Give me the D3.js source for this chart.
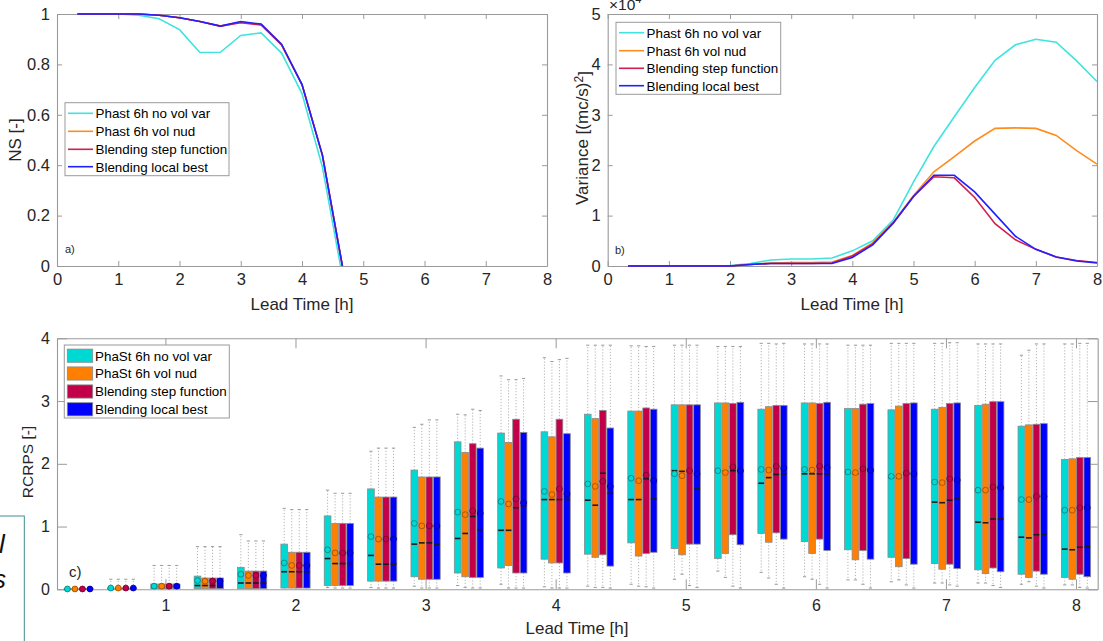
<!DOCTYPE html>
<html><head><meta charset="utf-8">
<script src="https://cdn.jsdelivr.net/npm/d3@7"></script>
<style>body{margin:0;background:#fff;} svg{display:block;}</style>
</head><body><svg width="1103" height="641"></svg>
<script>
// ---------------- DATA ----------------
const leadTimes = [0.333,0.667,1,1.333,1.667,2,2.333,2.667,3,3.333,3.667,4,4.333,4.667,5,5.333,5.667,6,6.333,6.667,7,7.333,7.667,8];
const lineSeriesNames = ["Phast 6h no vol var","Phast 6h vol nud","Blending step function","Blending local best"];
const boxSeriesNames = ["PhaSt 6h no vol var","PhaSt 6h vol nud","Blending step function","Blending local best"];

// a) NS [-]
const nsNoVolVar = [1,1,1,0.995,0.981,0.938,0.847,0.848,0.915,0.925,0.845,0.684,0.393,-0.05,-0.7,-1.5,-2.4,-3.3,-4.0,-4.5,-4.8,-5.0,-5.0,-4.9];
const nsVolNud   = [1,1,1,1,0.995,0.985,0.97,0.952,0.968,0.958,0.877,0.72,0.44,-0.01,-0.5,-1.1,-1.8,-2.4,-2.9,-3.2,-3.3,-3.3,-3.2,-3.0];
const nsStep     = [1,1,1,1,0.995,0.985,0.97,0.952,0.965,0.957,0.877,0.72,0.44,-0.01,-0.5,-1.1,-1.8,-2.4,-2.9,-3.2,-3.3,-3.3,-3.2,-3.0];
const nsLocal    = [1,1,1,1,0.995,0.985,0.97,0.952,0.97,0.96,0.88,0.72,0.44,-0.01,-0.5,-1.1,-1.8,-2.4,-2.9,-3.2,-3.3,-3.3,-3.2,-3.0];

// b) Variance [(mc/s)^2] x 10^4
const varNoVolVar = [0,0,0,0,0,0.01,0.05,0.12,0.14,0.14,0.16,0.30,0.50,0.91,1.67,2.37,2.96,3.54,4.08,4.39,4.50,4.44,4.07,3.66];
const varVolNud   = [0,0,0,0,0,0,0.03,0.06,0.07,0.07,0.08,0.21,0.46,0.87,1.40,1.87,2.17,2.48,2.73,2.74,2.73,2.59,2.29,2.02];
const varStep     = [0,0,0,0,0,0,0.03,0.05,0.05,0.05,0.06,0.20,0.44,0.85,1.38,1.77,1.75,1.36,0.84,0.52,0.33,0.18,0.11,0.07];
const varLocal    = [0,0,0,0,0,0,0.03,0.05,0.05,0.05,0.05,0.17,0.42,0.85,1.38,1.80,1.80,1.47,1.03,0.59,0.33,0.18,0.10,0.06];
const varExponent = 4;

// c) RCRPS [-] box statistics, rows = series, columns = lead times
const boxQ3 = [
 [0.01,0.02,0.085,0.21,0.35,0.72,1.17,1.60,1.90,2.35,2.49,2.51,2.79,2.84,2.94,2.97,2.87,2.97,2.88,2.86,2.87,2.93,2.60,2.07],
 [0.01,0.02,0.085,0.18,0.29,0.59,1.05,1.47,1.79,2.18,2.34,2.43,2.72,2.84,2.94,2.97,2.91,2.97,2.88,2.92,2.90,2.95,2.62,2.08],
 [0.01,0.02,0.085,0.18,0.29,0.59,1.05,1.47,1.79,2.32,2.71,2.71,2.85,2.89,2.94,2.96,2.93,2.96,2.95,2.96,2.96,2.99,2.63,2.10],
 [0.01,0.02,0.085,0.18,0.29,0.59,1.05,1.47,1.79,2.25,2.50,2.48,2.57,2.87,2.94,2.98,2.93,2.98,2.96,2.97,2.97,2.99,2.64,2.10]];
const boxMedian = [
 [0.003,0.01,0.03,0.06,0.10,0.28,0.49,0.54,0.72,0.81,0.94,1.43,1.42,1.43,1.89,1.89,1.69,1.84,1.85,1.78,1.39,1.07,0.83,0.64],
 [0.003,0.01,0.03,0.06,0.10,0.28,0.41,0.40,0.74,0.89,0.94,1.43,1.34,1.43,1.88,1.88,1.78,1.84,1.84,1.78,1.38,1.06,0.82,0.63],
 [0.003,0.01,0.03,0.06,0.10,0.28,0.41,0.40,0.74,1.16,1.30,1.43,1.85,1.76,1.88,1.89,1.83,1.84,1.90,1.83,1.42,1.12,0.87,0.67],
 [0.003,0.01,0.03,0.06,0.10,0.28,0.41,0.40,0.72,0.95,1.33,1.43,1.53,1.44,1.60,1.89,1.84,1.84,1.88,1.82,1.44,1.12,0.88,0.68]];
const boxQ1 = [
 [0,0.005,0.01,0.01,0.01,0.02,0.06,0.13,0.20,0.26,0.34,0.48,0.56,0.74,0.65,0.49,0.89,0.76,0.63,0.51,0.41,0.31,0.24,0.19],
 [0,0.005,0.01,0.01,0.01,0.02,0.06,0.13,0.16,0.20,0.38,0.42,0.51,0.53,0.55,0.57,0.75,0.57,0.47,0.36,0.32,0.25,0.19,0.16],
 [0,0.005,0.01,0.01,0.01,0.02,0.06,0.13,0.16,0.19,0.26,0.42,0.55,0.57,0.72,0.87,0.90,0.80,0.62,0.49,0.40,0.34,0.29,0.24],
 [0,0.005,0.01,0.01,0.01,0.02,0.06,0.13,0.16,0.19,0.26,0.26,0.37,0.59,0.72,0.71,0.80,0.62,0.48,0.40,0.33,0.28,0.24,0.20]];
const boxMean = [
 [0.005,0.02,0.05,0.14,0.24,0.42,0.63,0.84,1.05,1.23,1.40,1.56,1.68,1.77,1.84,1.89,1.91,1.91,1.87,1.80,1.71,1.58,1.43,1.26],
 [0.005,0.02,0.05,0.13,0.22,0.38,0.58,0.80,1.01,1.19,1.36,1.51,1.64,1.73,1.81,1.86,1.90,1.90,1.86,1.80,1.70,1.58,1.43,1.26],
 [0.005,0.02,0.05,0.13,0.22,0.38,0.58,0.80,1.01,1.25,1.44,1.60,1.72,1.82,1.89,1.95,1.96,1.96,1.92,1.85,1.76,1.63,1.48,1.30],
 [0.005,0.02,0.05,0.13,0.22,0.38,0.58,0.80,1.01,1.21,1.38,1.52,1.64,1.73,1.84,1.89,1.93,1.94,1.90,1.84,1.74,1.62,1.48,1.30]];
const whiskerHigh = [
 [0.01,0.16,0.38,0.68,0.87,1.29,1.58,2.20,2.58,2.79,3.40,3.69,3.89,3.88,3.89,3.87,3.92,3.91,3.89,3.92,3.92,3.91,3.73,3.91],
 [0.01,0.16,0.38,0.68,0.77,1.27,1.53,2.25,2.63,2.78,3.34,3.63,3.89,3.88,3.89,3.87,3.92,3.91,3.89,3.92,3.92,3.91,3.81,3.91],
 [0.01,0.16,0.38,0.68,0.77,1.27,1.53,2.25,2.70,2.87,3.34,3.66,3.89,3.87,3.89,3.87,3.91,3.91,3.89,3.92,3.93,3.91,3.91,3.92],
 [0.01,0.16,0.38,0.68,0.77,1.27,1.53,2.25,2.70,2.85,3.36,3.68,3.89,3.87,3.89,3.87,3.92,3.91,3.89,3.92,3.93,3.91,3.91,3.92]];
const whiskerLow = [
 [0,0,0,0,0,0.01,0.03,0.03,0.05,0.06,0.08,0.04,0.05,0.08,0.16,0.29,0.27,0.20,0.15,0.12,0.10,0.10,0.08,0.07],
 [0,0,0,0,0,0.01,0.02,0.02,0.02,0.03,0.02,0.02,0.03,0.05,0.24,0.19,0.18,0.16,0.15,0.15,0.10,0.10,0.12,0.07],
 [0,0,0,0,0,0.01,0.02,0.02,0.02,0.02,0.02,0.02,0.03,0.04,0.06,0.05,0.08,0.08,0.08,0.07,0.07,0.06,0.05,0.03],
 [0,0,0,0,0,0.01,0.02,0.02,0.02,0.02,0.02,0.02,0.02,0.02,0.03,0.02,0.02,0.02,0.02,0.02,0.05,0.03,0.02,0.02]];
const xTickHours = [0,1,2,3,4,5,6,7,8];
const nsTicks = [0,0.2,0.4,0.6,0.8,1];
const varTicks = [0,1,2,3,4,5];
const rcrpsTicks = [0,1,2,3,4];
const rcrpsHourTicks = [1,2,3,4,5,6,7,8];

// ---------------- STYLE ----------------
const FONT = "'Liberation Sans', Arial, Helvetica, sans-serif";
const frameColor = "#9a9a9a";
const textColor = "#262626";
const lineColors = ["#3fe3df","#ff8c1f","#d11f50","#2121ff"];
const boxColors = ["#00d8d4","#ff8000","#c2004a","#0000ff"];

const svg = d3.select("svg").style("font-family", FONT);

function drawAxes(xs, ys, o) {
  const [x0, x1] = xs.range(); const [y0, y1] = ys.range();
  const g = svg.append("g");
  g.append("g").attr("transform", `translate(0,${y0})`)
    .call(d3.axisBottom(xs).tickValues(o.xTicks).tickFormat(o.xFmt).tickSizeInner(-o.tick).tickSizeOuter(0).tickPadding(o.xPad));
  g.append("g").attr("transform", `translate(0,${y1})`)
    .call(d3.axisTop(xs).tickValues(o.xTicks).tickFormat("").tickSizeInner(-o.tick).tickSizeOuter(0));
  g.append("g").attr("transform", `translate(${x0},0)`)
    .call(d3.axisLeft(ys).tickValues(o.yTicks).tickFormat(o.yFmt).tickSizeInner(-o.tick).tickSizeOuter(0).tickPadding(o.yPad));
  g.append("g").attr("transform", `translate(${x1},0)`)
    .call(d3.axisRight(ys).tickValues(o.yTicks).tickFormat("").tickSizeInner(-o.tick).tickSizeOuter(0));
  g.selectAll(".domain").attr("stroke", frameColor).attr("stroke-width", 1.1);
  g.selectAll(".tick line").attr("stroke", frameColor).attr("stroke-width", 1);
  g.selectAll(".tick text").attr("fill", textColor).style("font-size", o.font || "16.5px").style("font-family", FONT);
  return g;
}

function lineLegend(x, y, w, h, rows, names, colors) {
  const g = svg.append("g");
  g.append("rect").attr("x", x).attr("y", y).attr("width", w).attr("height", h)
    .attr("fill", "#fff").attr("stroke", frameColor).attr("stroke-width", 1);
  names.forEach((n, i) => {
    g.append("line").attr("x1", x + 3).attr("x2", x + 28).attr("y1", rows[i]).attr("y2", rows[i])
      .attr("stroke", colors[i]).attr("stroke-width", 1.6);
    g.append("text").attr("x", x + 30.5).attr("y", rows[i]).attr("dy", "0.36em")
      .attr("fill", "#000").style("font-size", "13.4px").text(n);
  });
}

const fmt = d3.format("~g");

// ---------- Panel a ----------
const xa = d3.scaleLinear().domain([0, 8]).range([57, 547]);
const ya = d3.scaleLinear().domain([0, 1]).range([266, 14]);
drawAxes(xa, ya, {xTicks: xTickHours, yTicks: nsTicks, xFmt: fmt, yFmt: fmt, tick: 5, xPad: 7, yPad: 7});
svg.append("clipPath").attr("id", "clipA").append("rect")
  .attr("x", 57).attr("y", 11).attr("width", 490).attr("height", 255);
const nsSeries = [nsNoVolVar, nsVolNud, nsStep, nsLocal];
const gA = svg.append("g").attr("clip-path", "url(#clipA)");
nsSeries.forEach((s, k) => {
  gA.append("path").datum(s.map((v, i) => [leadTimes[i], v]))
    .attr("fill", "none").attr("stroke", lineColors[k]).attr("stroke-width", 1.6)
    .attr("d", d3.line().x(d => xa(d[0])).y(d => ya(d[1])));
});
lineLegend(65, 102.7, 164, 73, [113.3, 131.3, 149.3, 166.7], lineSeriesNames, lineColors);
svg.append("text").attr("x", 65).attr("y", 253).attr("fill", textColor).style("font-size", "11px").text("a)");
svg.append("text").attr("x", 302).attr("y", 310).attr("text-anchor", "middle").attr("fill", textColor)
  .style("font-size", "17px").text("Lead Time [h]");
svg.append("text").attr("transform", "translate(15,140) rotate(-90)").attr("text-anchor", "middle").attr("dy", "0.35em")
  .attr("fill", textColor).style("font-size", "17px").text("NS [-]");

// ---------- Panel b ----------
const xb = d3.scaleLinear().domain([0, 8]).range([607.7, 1097]);
const yb = d3.scaleLinear().domain([0, 5]).range([266, 14]);
drawAxes(xb, yb, {xTicks: xTickHours, yTicks: varTicks, xFmt: fmt, yFmt: fmt, tick: 5, xPad: 7, yPad: 7});
svg.append("clipPath").attr("id", "clipB").append("rect")
  .attr("x", 607.7).attr("y", 14).attr("width", 489.3).attr("height", 254);
const varSeries = [varNoVolVar, varVolNud, varStep, varLocal];
const gB = svg.append("g").attr("clip-path", "url(#clipB)");
varSeries.forEach((s, k) => {
  gB.append("path").datum(s.map((v, i) => [leadTimes[i], v]))
    .attr("fill", "none").attr("stroke", lineColors[k]).attr("stroke-width", 1.6)
    .attr("d", d3.line().x(d => xb(d[0])).y(d => yb(d[1])));
});
lineLegend(616, 22.3, 164.7, 72, [32.7, 50.7, 68.3, 85.7], lineSeriesNames, lineColors);
svg.append("text").attr("x", 615).attr("y", 254).attr("fill", textColor).style("font-size", "11px").text("b)");
const expo = svg.append("text").attr("x", 609).attr("y", 10).attr("fill", textColor).style("font-size", "15.5px");
expo.append("tspan").text("×10");
expo.append("tspan").attr("dy", -7).style("font-size", "11px").text(varExponent);
svg.append("text").attr("x", 852).attr("y", 310).attr("text-anchor", "middle").attr("fill", textColor)
  .style("font-size", "17px").text("Lead Time [h]");
const vl = svg.append("text").attr("transform", "translate(582,138) rotate(-90)").attr("text-anchor", "middle").attr("dy", "0.35em")
  .attr("fill", textColor).style("font-size", "17px");
vl.append("tspan").text("Variance [(mc/s)");
vl.append("tspan").attr("dy", "-0.45em").style("font-size", "12px").text("2");
vl.append("tspan").attr("dy", "0.45em").text("]");

// ---------- Panel c ----------
const xc = d3.scaleLinear().domain([0.5, 24.5]).range([57, 1097.7]);
const yc = d3.scaleLinear().domain([0, 4]).range([589.3, 338.3]);
const seriesOffset = d3.scalePoint().domain([0, 1, 2, 3]).range([-0.26, 0.26]);
const boxHalf = 0.077;
drawAxes(xc, yc, {xTicks: rcrpsHourTicks.map(h => h * 3), yTicks: rcrpsTicks, xFmt: d => fmt(d / 3), yFmt: fmt, tick: 10, xPad: 10.5, yPad: 7, font: "16px"});
const gC = svg.append("g");
boxSeriesNames.forEach((name, k) => {
  leadTimes.forEach((lt, i) => {
    const c = i + 1 + seriesOffset(k);
    const cx = xc(c), left = xc(c - boxHalf), right = xc(c + boxHalf);
    const capHalf = 1.6;
    gC.append("line").attr("x1", cx).attr("x2", cx).attr("y1", yc(boxQ3[k][i])).attr("y2", yc(whiskerHigh[k][i]))
      .attr("stroke", "#acacac").attr("stroke-width", 0.9).attr("stroke-dasharray", "1.2,1.8");
    gC.append("line").attr("x1", cx).attr("x2", cx).attr("y1", yc(boxQ1[k][i])).attr("y2", yc(whiskerLow[k][i]))
      .attr("stroke", "#acacac").attr("stroke-width", 0.9).attr("stroke-dasharray", "1.2,1.8");
    if (whiskerHigh[k][i] > boxQ3[k][i] + 0.02) {
      gC.append("line").attr("x1", cx - capHalf).attr("x2", cx + capHalf).attr("y1", yc(whiskerHigh[k][i])).attr("y2", yc(whiskerHigh[k][i]))
        .attr("stroke", "#999").attr("stroke-width", 1);
    }
    if (boxQ1[k][i] > whiskerLow[k][i] + 0.02) {
      gC.append("line").attr("x1", cx - capHalf).attr("x2", cx + capHalf).attr("y1", yc(whiskerLow[k][i])).attr("y2", yc(whiskerLow[k][i]))
        .attr("stroke", "#999").attr("stroke-width", 1);
    }
    gC.append("rect").attr("x", left).attr("y", yc(boxQ3[k][i]))
      .attr("width", right - left).attr("height", Math.max(0.5, yc(boxQ1[k][i]) - yc(boxQ3[k][i])))
      .attr("fill", boxColors[k]).attr("stroke", "#8a8a8a").attr("stroke-width", 0.8);
    gC.append("line").attr("x1", left + 0.5).attr("x2", right - 0.5).attr("y1", yc(boxMedian[k][i])).attr("y2", yc(boxMedian[k][i]))
      .attr("stroke", "#1a1a1a").attr("stroke-width", 1.6);
    gC.append("circle").attr("cx", cx).attr("cy", yc(boxMean[k][i])).attr("r", 2.9)
      .attr("fill", boxColors[k]).attr("stroke", d3.color(boxColors[k]).darker(1.3)).attr("stroke-width", 0.9);
  });
});

// legend c
const lg = svg.append("g");
lg.append("rect").attr("x", 64.3).attr("y", 345).attr("width", 165).attr("height", 73)
  .attr("fill", "#fff").attr("stroke", frameColor).attr("stroke-width", 1);
[355.7, 373.5, 391.5, 409.3].forEach((ry, k) => {
  lg.append("rect").attr("x", 67.3).attr("y", ry - 6.6).attr("width", 25.4).attr("height", 13.2)
    .attr("fill", boxColors[k]).attr("stroke", "#8a8a8a").attr("stroke-width", 0.8);
  lg.append("text").attr("x", 95).attr("y", ry).attr("dy", "0.36em").attr("fill", "#000")
    .style("font-size", "13.4px").text(boxSeriesNames[k]);
});
svg.append("text").attr("x", 69).attr("y", 577).attr("fill", textColor).style("font-size", "15px").text("c)");
svg.append("text").attr("x", 577).attr("y", 634).attr("text-anchor", "middle").attr("fill", textColor)
  .style("font-size", "17px").text("Lead Time [h]");
svg.append("text").attr("transform", "translate(27.5,462) rotate(-90)").attr("text-anchor", "middle").attr("dy", "0.35em")
  .attr("fill", textColor).style("font-size", "15.5px").text("RCRPS [-]");

// cropped neighbour fragment at left edge
svg.append("rect").attr("x", -2).attr("y", 516).attr("width", 26.3).attr("height", 140)
  .attr("fill", "none").attr("stroke", "#3f8f8f").attr("stroke-width", 1);
svg.append("text").attr("x", -1).attr("y", 553).style("font-size", "26px").style("font-style", "italic").attr("fill", "#111").text("l");
svg.append("text").attr("x", -7).attr("y", 588).style("font-size", "26px").style("font-style", "italic").attr("fill", "#111").text("s");
</script></body></html>
